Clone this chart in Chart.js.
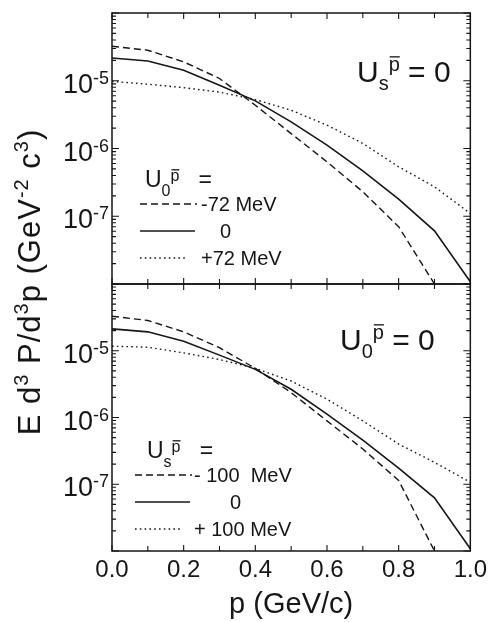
<!DOCTYPE html>
<html>
<head>
<meta charset="utf-8">
<script src="https://cdn.jsdelivr.net/npm/chart.js@4.4.0/dist/chart.umd.min.js"></script>
<style>
  html, body { margin: 0; padding: 0; background: #fff; }
  #wrap { width: 492px; height: 622px; position: relative; }
</style>
</head>
<body>
<div id="wrap"><canvas id="chart" width="492" height="622"></canvas></div>
<script>
const p = [0.0, 0.1, 0.2, 0.3, 0.4, 0.5, 0.6, 0.7, 0.8, 0.9, 1.0];

// upper panel: U_s = 0, U_0 varied
const u0Minus72 = [3.23e-5, 2.82e-5, 1.90e-5, 1.08e-5, 4.35e-6, 1.66e-6, 6.35e-7, 2.30e-7, 7.0e-8, 1.0e-8, null];
const u0Zero    = [2.17e-5, 1.96e-5, 1.43e-5, 8.6e-6, 5.05e-6, 2.47e-6, 1.12e-6, 4.69e-7, 1.79e-7, 6.1e-8, 1.08e-8];
const u0Plus72  = [9.8e-6, 8.9e-6, 7.9e-6, 6.8e-6, 5.27e-6, 3.67e-6, 2.21e-6, 1.19e-6, 5.37e-7, 2.72e-7, 1.10e-7];

// lower panel: U_0 = 0, U_s varied
const usMinus100 = [3.29e-5, 2.84e-5, 1.92e-5, 1.11e-5, 5.45e-6, 2.36e-6, 8.9e-7, 3.37e-7, 1.14e-7, 1.0e-8, null];
const usZero     = [2.13e-5, 1.92e-5, 1.39e-5, 8.6e-6, 5.26e-6, 2.65e-6, 1.12e-6, 4.59e-7, 1.75e-7, 6.25e-8, 1.08e-8];
const usPlus100  = [1.17e-5, 1.13e-5, 9.3e-6, 7.4e-6, 5.45e-6, 3.52e-6, 1.88e-6, 8.9e-7, 4.0e-7, 2.13e-7, 1.07e-7];

const xTickLabels = ['0.0', '0.2', '0.4', '0.6', '0.8', '1.0'];
const yExponents = [-5, -6, -7];
const legendTop = ['-72 MeV', '0', '+72 MeV'];
const legendBottom = ['- 100  MeV', '0', '+ 100 MeV'];

const FONT = "'Liberation Sans', Arial, Helvetica, sans-serif";
const INK = '#161616';
const DASH = [7, 4];
const DOT = [1.6, 3.2];

const pts = arr => p.map((x, i) => ({ x: x, y: arr[i] }));

function line(data, axis, dash, width) {
  return {
    data: pts(data), yAxisID: axis, borderColor: INK, borderWidth: width,
    borderDash: dash, pointRadius: 0, tension: 0, fill: false
  };
}

// draw a run of text pieces: [text, size, dy, overbar]
function rich(ctx, x, y, parts, measureOnly) {
  let cx = x;
  for (const [t, size, dy, bar] of parts) {
    ctx.font = size + 'px ' + FONT;
    const w = ctx.measureText(t).width;
    if (!measureOnly) {
      ctx.fillText(t, cx, y + dy);
      if (bar) ctx.fillRect(cx + 1, y + dy - size * 0.74, w - 1, 1.3);
    }
    cx += w;
  }
  return cx - x;
}

const framePlugin = {
  id: 'frame',
  afterDraw(chart) {
    const ctx = chart.ctx;
    const xs = chart.scales.x;
    const panels = [chart.scales.yT, chart.scales.yB];
    const L = chart.chartArea.left, R = chart.chartArea.right;
    ctx.save();
    ctx.strokeStyle = INK;
    ctx.fillStyle = INK;
    ctx.lineWidth = 1.5;
    ctx.textAlign = 'left';
    ctx.textBaseline = 'alphabetic';

    panels.forEach(ys => {
      const T = ys.top, B = ys.bottom;
      ctx.strokeRect(L, T, R - L, B - T);
      ctx.lineWidth = 1.1;
      // x ticks, inward on top and bottom edges
      for (let k = 0; k <= 10; k++) {
        const px = xs.getPixelForValue(k / 10);
        const len = k % 2 === 0 ? 6 : 5;
        ctx.beginPath();
        ctx.moveTo(px, B); ctx.lineTo(px, B - len);
        ctx.moveTo(px, T); ctx.lineTo(px, T + len);
        ctx.stroke();
      }
      // log ticks on left and right edges
      for (let d = -8; d <= -4; d++) {
        for (let m = 1; m <= 9; m++) {
          const v = m * Math.pow(10, d);
          if (v < ys.min * 0.999 || v > ys.max * 1.001) continue;
          const py = ys.getPixelForValue(v);
          const len = m === 1 ? 7 : 4;
          ctx.beginPath();
          ctx.moveTo(L, py); ctx.lineTo(L + len, py);
          ctx.moveTo(R, py); ctx.lineTo(R - len, py);
          ctx.stroke();
        }
      }
      ctx.lineWidth = 1.5;
      // decade labels
      yExponents.forEach(e => {
        const py = ys.getPixelForValue(Math.pow(10, e));
        const parts = [['10', 27, 12], [String(e), 18, 3]];
        const w = rich(ctx, 0, 0, parts, true);
        rich(ctx, L - 3 - w, py, parts);
      });
    });

    // corner labels
    const yT = chart.scales.yT, yB = chart.scales.yB;
    rich(ctx, L + 245, yT.top + 69, [['U', 30, 0], ['s', 20, 8], ['p', 20, -11, true], [' = 0', 30, 0]]);
    rich(ctx, L + 228, yB.top + 66, [['U', 30, 0], ['0', 20, 8], ['p', 20, -11, true], [' = 0', 30, 0]]);

    // in-panel legends
    const drawLegend = (ys, sub, labels, ux, lx, textX, zeroX) => {
      const T = ys.top;
      rich(ctx, ux, T + 174, [['U', 23, 0], [sub, 16, 9], ['p', 16, -6, true], ['   =', 23, 0]]);
      const rows = [[DASH, 57], [[], 55], [DOT, 48]];
      const ly = [T + 191, T + 218, T + 245];
      rows.forEach(([dash, len], i) => {
        ctx.setLineDash(dash);
        ctx.lineWidth = 1.4;
        ctx.beginPath();
        ctx.moveTo(lx, ly[i]); ctx.lineTo(lx + len, ly[i]);
        ctx.stroke();
        ctx.setLineDash([]);
        ctx.font = '20px ' + FONT;
        ctx.fillText(labels[i], i === 1 ? zeroX : textX, ly[i] + 7);
      });
    };
    drawLegend(yT, '0', legendTop, L + 33, L + 28, L + 89, L + 108);
    drawLegend(yB, 's', legendBottom, L + 35, L + 23, L + 82, L + 118);

    // y-axis title, rotated, spanning both panels
    ctx.save();
    ctx.translate(30, (chart.chartArea.top + chart.chartArea.bottom) / 2);
    ctx.rotate(-Math.PI / 2);
    ctx.letterSpacing = '1px';
    const title = [['E d', 31, 0], ['3', 20, -12], [' P/d', 31, 0], ['3', 20, -12], ['p (GeV', 31, 0],
                   ['-2', 20, -12], [' c', 31, 0], ['3', 20, -12], [')', 31, 0]];
    const tw = rich(ctx, 0, 0, title, true);
    rich(ctx, -tw / 2, 10, title);
    ctx.restore();

    ctx.restore();
  }
};

new Chart(document.getElementById('chart'), {
  type: 'line',
  data: {
    datasets: [
      line(u0Minus72, 'yT', DASH, 1.4),
      line(u0Zero, 'yT', [], 1.6),
      line(u0Plus72, 'yT', DOT, 1.4),
      line(usMinus100, 'yB', DASH, 1.4),
      line(usZero, 'yB', [], 1.6),
      line(usPlus100, 'yB', DOT, 1.4)
    ]
  },
  options: {
    responsive: false,
    animation: false,
    layout: { padding: { top: 13, right: 21, left: 0, bottom: 0 } },
    plugins: { legend: { display: false }, tooltip: { enabled: false } },
    scales: {
      x: {
        type: 'linear', min: 0, max: 1, position: 'bottom',
        grid: { display: false, drawTicks: false },
        border: { display: false },
        ticks: {
          stepSize: 0.1, autoSkip: false, maxRotation: 0, padding: 5,
          color: INK, font: { size: 24, family: FONT },
          callback: (v, i) => (i % 2 === 0 ? xTickLabels[i / 2] : '')
        },
        title: {
          display: true, text: 'p (GeV/c)', color: INK,
          font: { size: 29, family: FONT }, padding: { top: -4, bottom: 0 }
        },
        afterFit: s => { s.height = 71; }
      },
      yB: {
        type: 'logarithmic', min: 1e-8, max: 1e-4, position: 'left',
        stack: 'panels', stackWeight: 267,
        grid: { display: false, drawTicks: false }, border: { display: false },
        ticks: { display: false },
        afterFit: s => { s.width = 112; }
      },
      yT: {
        type: 'logarithmic', min: 1e-8, max: 1e-4, position: 'left',
        stack: 'panels', stackWeight: 271,
        grid: { display: false, drawTicks: false }, border: { display: false },
        ticks: { display: false },
        afterFit: s => { s.width = 112; }
      }
    }
  },
  plugins: [framePlugin]
});
</script>
</body>
</html>
